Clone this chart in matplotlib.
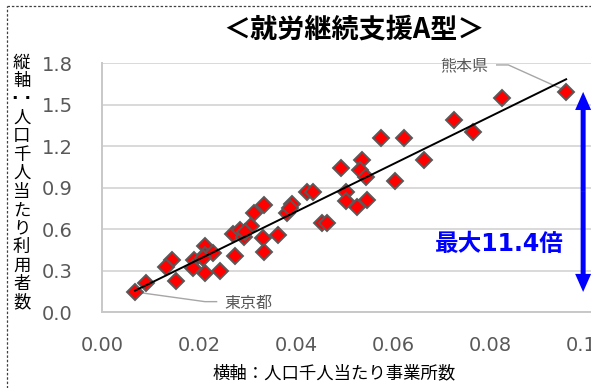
import numpy as np
import matplotlib.pyplot as plt
from matplotlib.lines import Line2D

plt.rcParams['font.family'] = ['Noto Sans CJK JP', 'DejaVu Sans']

# 都道府県別：人口千人当たり事業所数(x) と 利用者数(y)
offices = [0.0068, 0.0090, 0.0144, 0.0131, 0.0152, 0.0190, 0.0188, 0.0212,
           0.0212, 0.0229, 0.0212, 0.0243, 0.0274, 0.0270, 0.0284, 0.0292,
           0.0313, 0.0334, 0.0307, 0.0332, 0.0363, 0.0334, 0.0392, 0.0382,
           0.0422, 0.0435, 0.0453, 0.0463, 0.0492, 0.0502, 0.0503, 0.0525,
           0.0545, 0.0535, 0.0531, 0.0544, 0.0574, 0.0623, 0.0663, 0.0603,
           0.0724, 0.0764, 0.0823, 0.0956, 0.0208, 0.0295, 0.0387]
users = [0.147, 0.210, 0.378, 0.325, 0.226, 0.378, 0.318, 0.479,
         0.414, 0.427, 0.286, 0.299, 0.409, 0.566, 0.595, 0.544,
         0.718, 0.776, 0.624, 0.535, 0.559, 0.438, 0.783, 0.716,
         0.872, 0.872, 0.644, 0.644, 1.041, 0.872, 0.807, 0.759,
         0.812, 1.101, 1.029, 0.980, 1.258, 1.258, 1.101, 0.952,
         1.390, 1.306, 1.547, 1.593, 0.393, 0.581, 0.754]

tokyo_idx = 0
kumamoto_idx = 43
x_ticks = [0.00, 0.02, 0.04, 0.06, 0.08, 0.10]
y_ticks = [0.0, 0.3, 0.6, 0.9, 1.2, 1.5, 1.8]

title = '＜就労継続支援A型＞'
x_label = '横軸：人口千人当たり事業所数'
y_label = '縦軸：人口千人当たり利用者数'
ratio_text = '最大11.4倍'

x = np.array(offices)
y = np.array(users)

fig = plt.figure(figsize=(5.91, 3.88), dpi=100)
ax = fig.add_axes([0.1726, 0.1951, 0.8274, 0.6418])

ax.set_xlim(0, 0.10072)
ax.set_ylim(0, 1.8)
ax.set_xticks(x_ticks)
ax.set_xticklabels([f'{v:.2f}' for v in x_ticks], family='DejaVu Sans')
ax.set_yticks(y_ticks)
ax.set_yticklabels([f'{v:.1f}' for v in y_ticks], family='DejaVu Sans')
ax.tick_params(length=0, labelsize=14, labelcolor='#595959')
ax.tick_params(axis='y', pad=21)
ax.tick_params(axis='x', pad=17)
ax.grid(axis='y', color='#d9d9d9', lw=1.4)
ax.set_axisbelow(True)
for s in ['top', 'right']:
    ax.spines[s].set_visible(False)
for s in ['left', 'bottom']:
    ax.spines[s].set_color('#c8c8c8')
    ax.spines[s].set_linewidth(1.4)

ax.plot(x, y, 'D', ms=8.4, mfc='#ff0000', mec='#595959', mew=1.4,
        zorder=3, clip_on=False)

# 線形近似
k, b = np.polyfit(x, y, 1)
xs = np.array([x.min(), x.max()])
ax.plot(xs, k * xs + b, color='black', lw=1.4, zorder=4)

# データラベル
tx, ty = x[tokyo_idx], y[tokyo_idx]
ax.plot([tx, 0.0212, 0.0236], [ty, 0.077, 0.077], color='#a6a6a6', lw=1,
        zorder=2)
ax.text(0.0253, 0.065, '東京都', fontsize=11.5, color='#595959',
        ha='left', va='center')
kx, ky = x[kumamoto_idx], y[kumamoto_idx]
ax.plot([kx - 0.0002, 0.0837, 0.0813], [ky + 0.01, 1.788, 1.788],
        color='#a6a6a6', lw=1, zorder=2, clip_on=False)
ax.text(0.0747, 1.781, '熊本県', fontsize=11.5, color='#595959',
        ha='center', va='center')

# 最大・最小の幅を示す矢印
ax_x = 0.0991
y_mid = (y.min() + y.max()) / 2
for y_end in [y.max(), y.min()]:
    ax.annotate('', xy=(ax_x, y_end), xytext=(ax_x, y_mid),
                arrowprops=dict(width=3.6, headwidth=11.5, headlength=13,
                                facecolor='#0000ff', edgecolor='#0000ff',
                                lw=0, shrink=0),
                annotation_clip=False)
ax.text(0.0951, 0.494, ratio_text, fontsize=17, fontweight='bold',
        color='#0000ff', ha='right', va='center',
        family=['DejaVu Sans', 'Noto Sans CJK JP'])

fig.text(354 / 591, 1 - 30 / 388, title, fontsize=19.5, fontweight='bold',
         ha='center', va='center')
fig.text(334 / 591, 1 - 373 / 388, x_label, fontsize=12.5,
         ha='center', va='center')

# 縦書きの軸ラベル（縦書きのコロンは横並びの点）
for i, ch in enumerate(y_label):
    yy = 62.5 + i * 18.45
    if ch == '：':
        fig.text(21.7 / 591, 1 - yy / 388, '· ·', fontsize=12.5,
                 ha='center', va='center', family='DejaVu Sans',
                 fontweight='bold')
    else:
        fig.text(21.7 / 591, 1 - yy / 388, ch, fontsize=12.5, ha='center',
                 va='center')

# 点線の枠
fig.add_artist(Line2D([7.3 / 591, 1], [1 - 5.7 / 388] * 2, color='#404040',
                      lw=0.9, ls=(0, (2, 1.5))))
fig.add_artist(Line2D([7.3 / 591] * 2, [0, 1 - 5.7 / 388], color='#404040',
                      lw=0.9, ls=(0, (2, 1.5))))

fig.savefig('out.png', dpi=100)
